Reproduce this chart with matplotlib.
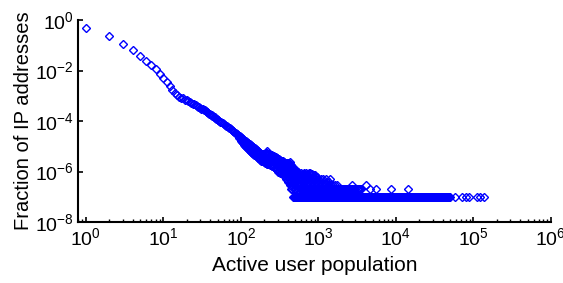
import numpy as np
import matplotlib
matplotlib.use('Agg')
import matplotlib.pyplot as plt
from matplotlib.ticker import FixedLocator, LogLocator, NullLocator

plt.rcParams['font.family'] = ['Liberation Sans', 'DejaVu Sans']

# total number of IP addresses (one IP -> lowest fraction in the plot)
total_ips = 1.0e7

# head of the distribution, read as fractions
pop_main = [1, 2, 3, 4, 5, 6, 7, 8, 9, 10, 11, 12, 13, 14, 15, 16, 17, 18, 19, 20,
            21, 22, 23, 24, 25, 26, 27, 28, 29, 30, 31, 32, 33, 34, 35, 36, 37, 38,
            39, 40, 41, 42, 43, 44, 45, 46, 47, 48, 49, 50, 51, 52, 54, 56, 58, 60,
            62, 64, 66, 68, 70, 72, 74, 76, 78, 80, 82, 84, 86, 88, 90, 92, 94, 95,
            97]
frac_main = [0.50, 0.234, 0.115, 0.066, 0.039, 0.0245, 0.0158, 0.0110, 0.0076, 0.0050,
             0.00347, 0.0024, 0.0017, 0.00126, 0.00105, 0.00093, 0.00085, 0.00078,
             0.00071, 0.00066, 0.00060, 0.00056, 0.00052, 0.00049, 0.00046, 0.00043,
             0.00040, 0.00037, 0.00035, 0.00033, 0.000312, 0.000295, 0.000278,
             0.000263, 0.000248, 0.000234, 0.000221, 0.000209, 0.000197, 0.000186,
             0.000178, 0.000170, 0.000160, 0.000151, 0.000145, 0.000138, 0.000130,
             0.000123, 0.000117, 0.000112, 0.000107, 0.000102, 9.5e-5, 8.8e-5,
             8.1e-5, 7.6e-5, 7.1e-5, 6.6e-5, 6.1e-5, 5.7e-5, 5.4e-5, 5.1e-5, 4.8e-5,
             4.5e-5, 4.2e-5, 3.95e-5, 3.7e-5, 3.5e-5, 3.3e-5, 3.1e-5, 2.95e-5,
             2.8e-5, 2.65e-5, 2.2e-5, 2.45e-5]

# middle of the distribution, read as number of IPs
pop_mid = [100, 100, 100, 103, 103, 105, 105, 105, 110, 110, 110, 113, 113,
           116, 116, 116, 119, 119, 122, 122, 122, 125, 125, 128, 128, 128,
           131, 131, 135, 135, 135, 138, 138, 142, 142, 142, 145, 145,
           149, 149, 149, 153, 153, 157, 157, 157, 161, 161, 165, 165, 165,
           169, 169, 174, 174, 174, 178, 178, 183, 183, 183, 187, 187,
           192, 192, 192, 197, 197, 202, 202, 202, 208, 208,
           214, 214, 214, 214, 214, 219, 219, 225, 225, 225, 225, 231, 231,
           237, 237, 237, 237, 243, 243, 249, 249, 249, 249, 255, 255,
           261, 261, 261, 261, 267, 267, 274, 274, 274, 274, 281, 281,
           288, 288, 288, 288, 295, 295, 302, 302, 302, 302, 309, 309,
           317, 317, 317, 317, 325, 325, 333, 333, 333, 333, 341, 341,
           350, 350, 350, 350, 358, 358, 367, 367, 367, 367, 376, 376,
           385, 385, 385, 385, 394, 394, 404, 404, 404, 404, 414, 414,
           424, 424, 424, 424, 434, 434, 445, 445, 445, 456, 456,
           467, 467, 467, 490, 490, 514, 514, 540]
ips_mid = [235, 195, 160, 215, 150, 200, 165, 132, 178, 140, 112, 165, 105,
           158, 120, 95, 145, 90, 138, 105, 83, 130, 78, 126, 92, 71,
           118, 66, 110, 80, 60, 102, 56, 95, 70, 52, 92, 50,
           89, 63, 47, 82, 45, 76, 56, 42, 70, 38, 63, 48, 35,
           60, 33, 56, 41, 30, 54, 29, 51, 38, 27, 50, 26,
           48, 35, 25, 47, 24, 50, 33, 22, 52, 21,
           63, 45, 35, 27, 20, 55, 20, 50, 38, 30, 19, 48, 19,
           46, 36, 28, 18, 45, 18, 44, 34, 27, 17, 43, 17,
           42, 33, 26, 16, 40, 15, 38, 29, 23, 14, 36, 13,
           34, 26, 20, 12, 33, 11, 31, 23, 17, 10, 30, 10,
           28, 20, 15, 9, 27, 13, 26, 20, 15, 11, 25, 12,
           25, 19, 14, 10, 24, 11, 22, 17, 13, 10, 21, 11,
           21, 16, 12, 10, 21, 11, 22, 17, 13, 10, 22, 12,
           23, 18, 13, 10, 20, 11, 18, 14, 11, 16, 12,
           14, 11, 10, 13, 11, 11, 10, 10]

# tail: populations seen on exactly k IPs
pop_9ip = [330, 365, 395, 430, 470, 505, 550, 595, 645, 700, 760, 790]
pop_8ip = [345, 375, 410, 445, 480, 520, 565, 610, 660, 715, 775, 838]
pop_7ip = [360, 392, 425, 460, 500, 545, 590, 640, 690, 745, 805, 870, 900]
pop_6ip = [372, 400, 440, 475, 515, 555, 600, 650, 705, 760, 825, 890, 960]
pop_5ip = [385, 415, 450, 485, 525, 570, 615, 665, 720, 780, 845, 915, 990,
           1070, 1160, 1260, 1410]
pop_4ip = [400, 430, 465, 500, 540, 585, 630, 680, 735, 795, 860, 930, 1010,
           1090, 1180, 1280, 1390]
pop_3ip = [425, 455, 490, 530, 560, 600, 640, 690, 730, 780, 830, 880, 935, 995,
           1060, 1120, 1190, 1270, 1350, 1440, 1530, 1620, 1720, 2690, 4170]
pop_2ip = [445, 462, 480, 500, 520, 547, 575, 592, 610, 635, 660, 680, 700, 720,
           740, 765, 790, 810, 830, 855, 880, 910, 940, 965, 990, 1020, 1050, 1080,
           1110, 1145, 1180, 1215, 1250, 1290, 1330, 1370, 1410, 1450, 1490, 1535,
           1580, 1630, 1680, 1730, 1780, 1835, 1890, 1945, 2000, 2060, 2120, 2185,
           2250, 2320, 2390, 2460, 2530, 2605, 2680, 2765, 2850, 2930, 3010, 3105,
           3200, 3295, 3390, 3490, 3590, 4600, 5600, 8610, 14300]
pop_1ip = [470, 485, 500, 515, 530, 545, 560, 578, 595, 612, 630, 650, 670, 690,
           710, 730, 750, 772, 795, 820, 845, 870, 895, 922, 950, 977, 1005, 1035,
           1065, 1097, 1130, 1165, 1200, 1235, 1270, 1307, 1345, 1385, 1425, 1467,
           1510, 1555, 1600, 1650, 1700, 1750, 1800, 1855, 1910, 1965, 2020, 2080,
           2140, 2205, 2270, 2340, 2410, 2480, 2550, 2625, 2700, 2785, 2870, 2955,
           3040, 3130, 3220, 3315, 3410, 3515, 3620, 3730, 3840, 3955, 4070, 4190,
           4310, 4440, 4570, 4705, 4840, 4985, 5130, 5285, 5440, 5605, 5770, 5940,
           6110, 6295, 6480, 6675, 6870, 7075, 7280, 7500, 7720, 7950, 8180, 8425,
           8670, 8930, 9190, 9465, 9740, 10020, 10300, 10600, 10900, 11250, 11600,
           11950, 12300, 12650, 13000, 13400, 13800, 14200, 14600, 15050, 15500,
           15950, 16400, 16900, 17400, 17950, 18500, 19050, 19600, 20150, 20700,
           21350, 22000, 22650, 23300, 24000, 24700, 25450, 26200, 27000, 27800,
           28600, 29400, 30300, 31200, 32100, 33000, 34000, 35000, 36000, 37100,
           38200, 39300, 40500, 41700, 42900, 44200, 45500, 46800, 48100, 49500,
           57500, 71500, 80500, 89000, 110000, 122000, 137000]

tail_rows = [(1, pop_1ip), (2, pop_2ip), (3, pop_3ip), (4, pop_4ip), (5, pop_5ip),
             (6, pop_6ip), (7, pop_7ip), (8, pop_8ip), (9, pop_9ip)]

x_all = list(pop_main) + list(pop_mid)
y_all = list(frac_main) + [n / total_ips for n in ips_mid]
for n_ips, pops in tail_rows:
    x_all += pops
    y_all += [n_ips / total_ips] * len(pops)

fig = plt.figure(figsize=(5.63, 2.83), dpi=100)
ax = fig.add_axes([0.1385, 0.2155, 0.840, 0.7138])

ax.plot(x_all, y_all, linestyle='none', marker='D', markersize=4.2,
        markerfacecolor='none', markeredgecolor='#0000ff', markeredgewidth=1.0)

ax.set_xscale('log')
ax.set_yscale('log')
ax.set_xlim(0.79, 1e6)
ax.set_ylim(1e-8, 1)
ax.xaxis.set_major_locator(FixedLocator([1, 1e1, 1e2, 1e3, 1e4, 1e5, 1e6]))
ax.xaxis.set_minor_locator(LogLocator(base=10, subs=np.arange(2, 10), numticks=20))
ax.yaxis.set_major_locator(FixedLocator([1e-8, 1e-6, 1e-4, 1e-2, 1]))
ax.yaxis.set_minor_locator(NullLocator())

for s in ['top', 'right']:
    ax.spines[s].set_visible(False)
for s in ['left', 'bottom']:
    ax.spines[s].set_linewidth(1.5)

ax.tick_params(which='major', direction='in', length=3.5, width=1.2, labelsize=14)
ax.tick_params(which='minor', direction='in', length=2, width=1)
ax.tick_params(axis='x', pad=4)
ax.tick_params(axis='y', pad=3)

ax.set_xlabel('Active user population', fontsize=15, labelpad=5)
ax.set_ylabel('Fraction of IP addresses', fontsize=14.5, labelpad=1)

fig.savefig('out.png', dpi=100)
